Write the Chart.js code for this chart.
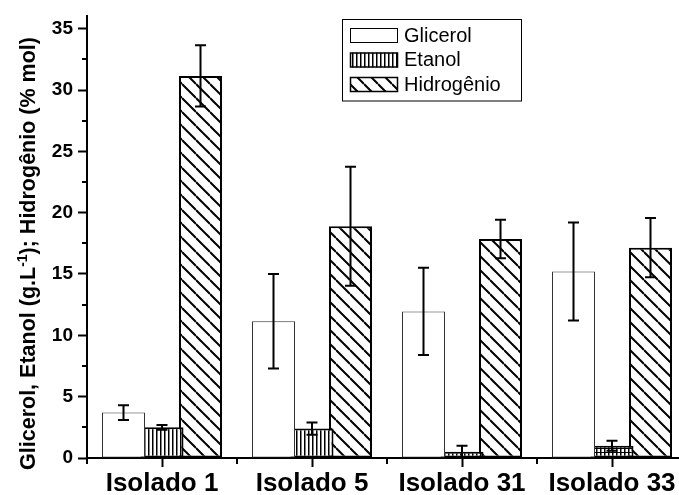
<!DOCTYPE html>
<html>
<head>
<meta charset="utf-8">
<script src="https://cdn.jsdelivr.net/npm/chart.js@4"></script>
<style>
  html, body { margin: 0; padding: 0; background: #fff; overflow: hidden; }
  #wrap { position: relative; width: 700px; height: 495px; }
</style>
</head>
<body>
<div id="wrap"><canvas id="c" width="700" height="495"></canvas></div>
<script>
// Categories and measured means with their standard deviations
const categories = ['Isolado 1', 'Isolado 5', 'Isolado 31', 'Isolado 33'];
const seriesNames = ['Glicerol', 'Etanol', 'Hidrogênio'];
const glicerol = [3.7, 11.15, 11.95, 15.2];
const glicerolErr = [0.6, 3.85, 3.55, 4.0];
const etanol = [2.5, 2.4, 0.5, 1.0];
const etanolErr = [0.2, 0.5, 0.5, 0.4];
const hidrogenio = [31.15, 18.9, 17.85, 17.15];
const hidrogenioErr = [2.5, 4.85, 1.57, 2.41];
const yTicks = [0, 5, 10, 15, 20, 25, 30, 35];
const yMinorTicks = [2.5, 7.5, 12.5, 17.5, 22.5, 27.5, 32.5];
const yTitleParts = [
  { text: 'Glicerol, Etanol (g.L' },
  { text: '-1', sup: true },
  { text: '); Hidrogênio (% mol)' }
];

const FONT = "'Liberation Sans', Arial, Helvetica, sans-serif";
const canvas = document.getElementById('c');
const ctx = canvas.getContext('2d');

// Fill patterns for the three series
function makePattern(w, h, draw) {
  const t = document.createElement('canvas');
  t.width = w; t.height = h;
  const g = t.getContext('2d');
  g.fillStyle = '#fff';
  g.fillRect(0, 0, w, h);
  g.fillStyle = '#000';
  g.strokeStyle = '#000';
  draw(g, w, h);
  return ctx.createPattern(t, 'repeat');
}
const vertLines = makePattern(4, 4, (g, w, h) => { g.fillRect(0, 0, 1.5, h); });
const gridLines = makePattern(4, 4, (g, w, h) => { g.fillRect(0, 0, 1.5, h); g.fillRect(0, 0, w, 1); });
const diagLines = makePattern(14, 14, (g, w, h) => {
  g.lineWidth = 2;
  for (let k = -1; k <= 1; k++) {
    g.beginPath();
    g.moveTo(0, k * h);
    g.lineTo(w, h + k * h);
    g.stroke();
  }
});

// Error bars drawn on top of every bar
const errorBars = {
  id: 'errorBars',
  afterDatasetsDraw(chart) {
    const c = chart.ctx, y = chart.scales.y;
    c.save();
    c.strokeStyle = '#000';
    c.lineWidth = 2;
    chart.data.datasets.forEach((ds, di) => {
      const meta = chart.getDatasetMeta(di);
      meta.data.forEach((bar, i) => {
        const v = ds.data[i], e = ds.errors[i];
        const yTop = y.getPixelForValue(v + e);
        const yBot = y.getPixelForValue(Math.max(0, v - e));
        const x = bar.x, cap = 5.5;
        c.beginPath();
        c.moveTo(x, yTop); c.lineTo(x, yBot);
        c.moveTo(x - cap, yTop); c.lineTo(x + cap, yTop);
        c.moveTo(x - cap, yBot); c.lineTo(x + cap, yBot);
        c.stroke();
      });
    });
    c.restore();
  }
};

// Minor tick marks on both axes
const minorTicks = {
  id: 'minorTicks',
  afterDraw(chart) {
    const c = chart.ctx, xs = chart.scales.x, ys = chart.scales.y, a = chart.chartArea;
    c.save();
    c.strokeStyle = '#000';
    c.lineWidth = 2;
    c.beginPath();
    yMinorTicks.forEach(v => {
      const py = Math.round(ys.getPixelForValue(v));
      c.moveTo(a.left - 5, py); c.lineTo(a.left, py);
    });
    const n = categories.length;
    for (let i = 0; i <= n; i++) {
      let px;
      if (i === 0) px = a.left;
      else if (i === n) px = a.right;
      else px = (xs.getPixelForValue(i - 1) + xs.getPixelForValue(i)) / 2;
      px = Math.round(px);
      c.moveTo(px, a.bottom); c.lineTo(px, a.bottom + 6);
    }
    c.stroke();
    c.restore();
  }
};

// Rotated y-axis title with a superscript exponent
const yTitle = {
  id: 'yTitle',
  afterDraw(chart) {
    const c = chart.ctx;
    const main = `bold 21.5px ${FONT}`, sup = `bold 14px ${FONT}`;
    c.save();
    let total = 0;
    yTitleParts.forEach(p => { c.font = p.sup ? sup : main; total += c.measureText(p.text).width; });
    const cx = 35, cy = 253.5;
    c.translate(cx, cy);
    c.rotate(-Math.PI / 2);
    c.fillStyle = '#000';
    c.textBaseline = 'alphabetic';
    let x = -total / 2;
    yTitleParts.forEach(p => {
      c.font = p.sup ? sup : main;
      c.fillText(p.text, x, p.sup ? -8.5 : 0);
      x += c.measureText(p.text).width;
    });
    c.restore();
  }
};

// Boxed legend inside the plot area
const boxLegend = {
  id: 'boxLegend',
  afterDraw(chart) {
    const c = chart.ctx;
    const left = 342, top = 19, width = 179, rowH = 24.5;
    const rows = chart.data.datasets.length;
    c.save();
    c.fillStyle = '#fff';
    c.fillRect(left, top, width, rows * rowH + 8);
    c.strokeStyle = '#000';
    c.lineWidth = 1;
    c.strokeRect(left + 0.5, top + 0.5, width, rows * rowH + 8);
    c.font = `20px ${FONT}`;
    c.textBaseline = 'middle';
    chart.data.datasets.forEach((ds, i) => {
      const sy = top + 9 + i * rowH;
      const bg = Array.isArray(ds.backgroundColor) ? ds.backgroundColor[0] : ds.backgroundColor;
      c.fillStyle = bg;
      c.fillRect(350, sy, 48, 15);
      c.strokeStyle = '#000';
      c.lineWidth = ds.borderWidth > 1 ? 1.5 : 1;
      c.strokeRect(350.5, sy + 0.5, 47, 14);
      c.fillStyle = '#000';
      c.fillText(ds.label, 404, sy + 8);
    });
    c.restore();
  }
};

new Chart(canvas, {
  type: 'bar',
  data: {
    labels: categories,
    datasets: [
      {
        label: seriesNames[0], data: glicerol, errors: glicerolErr,
        backgroundColor: '#fff', borderColor: '#333', borderWidth: 1, borderSkipped: false
      },
      {
        label: seriesNames[1], data: etanol, errors: etanolErr,
        backgroundColor: [vertLines, vertLines, gridLines, gridLines], borderColor: '#000', borderWidth: 2, borderSkipped: false
      },
      {
        label: seriesNames[2], data: hidrogenio, errors: hidrogenioErr,
        backgroundColor: diagLines, borderColor: '#000', borderWidth: 2, borderSkipped: false
      }
    ]
  },
  options: {
    responsive: false,
    animation: false,
    devicePixelRatio: 1,
    categoryPercentage: 0.77,
    barPercentage: 1.117,
    layout: { padding: { top: 14.5, right: 13, left: 0, bottom: 0 } },
    plugins: { legend: { display: false }, tooltip: { enabled: false } },
    scales: {
      x: {
        offset: true,
        grid: { display: true, drawOnChartArea: false, drawTicks: true, offset: false, tickLength: 9, tickWidth: 2, tickColor: '#000' },
        border: { display: true, color: '#000', width: 2 },
        ticks: { color: '#000', font: { family: FONT, size: 26, weight: 'bold' }, padding: 1, maxRotation: 0, autoSkip: false },
        afterFit(s) { s.height = 37; }
      },
      y: {
        min: 0, max: 36,
        afterBuildTicks(s) { s.ticks = yTicks.map(v => ({ value: v })); },
        grid: { drawOnChartArea: false, drawTicks: true, tickLength: 9, tickWidth: 2, tickColor: '#000' },
        border: { display: true, color: '#000', width: 2 },
        ticks: { color: '#000', font: { family: FONT, size: 19, weight: 'bold' }, padding: 5 },
        afterFit(s) { s.width = 87; }
      }
    }
  },
  plugins: [errorBars, minorTicks, yTitle, boxLegend]
});
</script>
</body>
</html>
